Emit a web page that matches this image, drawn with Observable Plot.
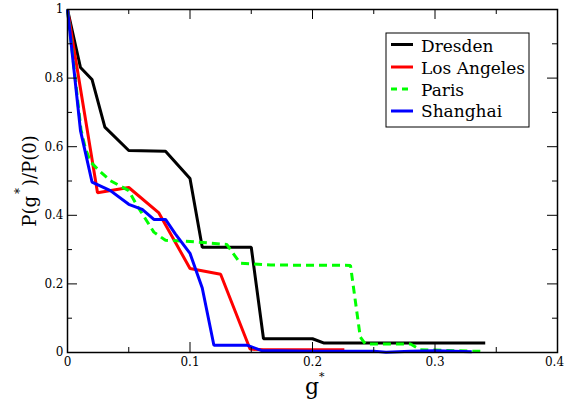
<!DOCTYPE html>
<html><head><meta charset="utf-8">
<script src="https://cdn.jsdelivr.net/npm/d3@7"></script>
<script src="https://cdn.jsdelivr.net/npm/@observablehq/plot@0.6"></script>
<style>
html,body{margin:0;padding:0;background:#fff;}
#chart{width:565px;height:402px;}
</style></head><body><div id="chart"></div>
<script>
// series names, colours
const cities = ["Dresden", "Los Angeles", "Paris", "Shanghai"];
const cityColors = ["#000000", "#ff0000", "#00ff00", "#0000ff"];

// data
const dresdenX = [0, 0.0106, 0.020, 0.0305, 0.050, 0.080, 0.100, 0.110, 0.150, 0.160, 0.200, 0.209, 0.341];
const dresdenY = [1, 0.831, 0.796, 0.657, 0.589, 0.587, 0.507, 0.307, 0.307, 0.040, 0.040, 0.028, 0.028];

const losAngelesX = [0, 0.0245, 0.050, 0.0746, 0.100, 0.125, 0.149, 0.160, 0.226];
const losAngelesY = [1, 0.466, 0.481, 0.407, 0.245, 0.228, 0.010, 0.008, 0.008];

const parisX = [0, 0.011, 0.0147, 0.019, 0.0256, 0.035, 0.050, 0.057, 0.0705, 0.080, 0.095, 0.130, 0.141, 0.166, 0.231, 0.239, 0.243, 0.280, 0.288, 0.341];
const parisY = [1, 0.65, 0.594, 0.555, 0.531, 0.501, 0.472, 0.427, 0.351, 0.327, 0.325, 0.315, 0.260, 0.255, 0.254, 0.045, 0.025, 0.025, 0.008, 0.003];

const shanghaiX = [0, 0.0106, 0.020, 0.035, 0.050, 0.061, 0.0705, 0.080, 0.088, 0.092, 0.100, 0.110, 0.1195, 0.147, 0.158, 0.200, 0.250, 0.260, 0.280, 0.300, 0.330];
const shanghaiY = [1, 0.647, 0.497, 0.472, 0.432, 0.417, 0.388, 0.388, 0.346, 0.327, 0.289, 0.188, 0.021, 0.021, 0.006, 0.004, 0.004, 0.001, 0.004, 0.005, 0.002];

// axis ticks
const xMajor = [0, 0.1, 0.2, 0.3, 0.4];
const xMinor = [0.05, 0.15, 0.25, 0.35];
const yMajor = [0, 0.2, 0.4, 0.6, 0.8, 1];
const yMinor = [0.1, 0.3, 0.5, 0.7, 0.9];
const xTickLabels = ["0", "0.1", "0.2", "0.3", "0.4"];
const yTickLabels = ["0", "0.2", "0.4", "0.6", "0.8", "1"];

const seriesX = [dresdenX, losAngelesX, parisX, shanghaiX];
const seriesY = [dresdenY, losAngelesY, parisY, shanghaiY];
const series = cities.map((c, i) => ({
  name: c, color: cityColors[i], dash: c === "Paris" ? "8,5" : null,
  points: seriesX[i].map((x, j) => ({x, y: seriesY[i][j]}))
}));

const W = 565, H = 402, mL = 67, mR = 8, mT = 9, mB = 50;
const pw = W - mL - mR, ph = H - mT - mB;
const font = "DejaVu Serif";
const last = xMajor.length - 1;

const svg = Plot.plot({
  width: W, height: H,
  marginLeft: mL, marginRight: mR, marginTop: mT, marginBottom: mB,
  x: {domain: [0, 0.4], axis: null},
  y: {domain: [0, 1], axis: null},
  style: {fontFamily: font, fontSize: "12px", color: "#000", background: "#fff"},
  marks: [
    ...series.map(s => Plot.line(s.points, {x: "x", y: "y", stroke: s.color, strokeWidth: 3,
      strokeDasharray: s.dash, strokeLinejoin: "miter", strokeLinecap: "butt"})),
    // inward ticks, all four sides
    Plot.tickX(xMajor, {x: d => d, insetTop: ph - 10, stroke: "#000"}),
    Plot.tickX(xMinor, {x: d => d, insetTop: ph - 5, stroke: "#000"}),
    Plot.tickX(xMajor, {x: d => d, insetBottom: ph - 10, stroke: "#000"}),
    Plot.tickX(xMinor, {x: d => d, insetBottom: ph - 5, stroke: "#000"}),
    Plot.tickY(yMajor, {y: d => d, insetRight: pw - 10, stroke: "#000"}),
    Plot.tickY(yMinor, {y: d => d, insetRight: pw - 5, stroke: "#000"}),
    Plot.tickY(yMajor, {y: d => d, insetLeft: pw - 10, stroke: "#000"}),
    Plot.tickY(yMinor, {y: d => d, insetLeft: pw - 5, stroke: "#000"}),
    Plot.axisX(xMajor.slice(0, last), {tickSize: 0, tickPadding: 5, tickFormat: (d, i) => xTickLabels[i], label: null, fontFamily: font, fontSize: 12}),
    Plot.axisX([xMajor[last]], {tickSize: 0, tickPadding: 5, dx: -3, tickFormat: () => xTickLabels[last], label: null, fontFamily: font, fontSize: 12}),
    Plot.axisY(yMajor, {tickSize: 0, tickPadding: 4, tickFormat: (d, i) => yTickLabels[i], label: null, fontFamily: font, fontSize: 12}),
    Plot.frame({stroke: "#000", strokeWidth: 1.5})
  ]
});
document.getElementById("chart").appendChild(svg);

const s = d3.select(svg);
s.selectAll("text").attr("font-family", font).style("font-family", font);

// x label g*
const xl = s.append("text").attr("x", mL + pw / 2 - 7).attr("y", 394).attr("text-anchor", "start")
  .attr("font-family", font).style("font-family", font).attr("font-size", 22).attr("fill", "#000");
xl.append("tspan").text("g");
xl.append("tspan").attr("dy", -14).attr("font-size", 11).text("*");
// y label P(g*)/P(0)
const yl = s.append("text").attr("transform", "translate(36,181) rotate(-90)")
  .attr("font-family", font).style("font-family", font).attr("text-anchor", "middle").attr("font-size", 18).attr("fill", "#000");
yl.append("tspan").text("P(g");
yl.append("tspan").attr("dy", -12).attr("dx", 2).attr("font-size", 12).text("*");
yl.append("tspan").attr("dy", 12).attr("dx", 2).text(")/P(0)");

// legend
const lg = s.append("g");
lg.append("rect").attr("x", 386).attr("y", 33).attr("width", 143).attr("height", 94)
  .attr("fill", "#fff").attr("stroke", "#000").attr("stroke-width", 1);
const lineYs = [44.5, 67, 89, 111];
const textYs = [52, 74, 96, 117];
series.forEach((d, i) => {
  lg.append("line").attr("x1", 391).attr("x2", 413).attr("y1", lineYs[i]).attr("y2", lineYs[i])
    .attr("stroke", d.color).attr("stroke-width", 3).attr("stroke-dasharray", d.dash ? "6,5" : null);
  lg.append("text").attr("x", 421).attr("y", textYs[i]).attr("text-anchor", "start")
    .attr("font-family", font).style("font-family", font).attr("font-size", 17).attr("fill", "#000").text(d.name);
});
</script></body></html>
